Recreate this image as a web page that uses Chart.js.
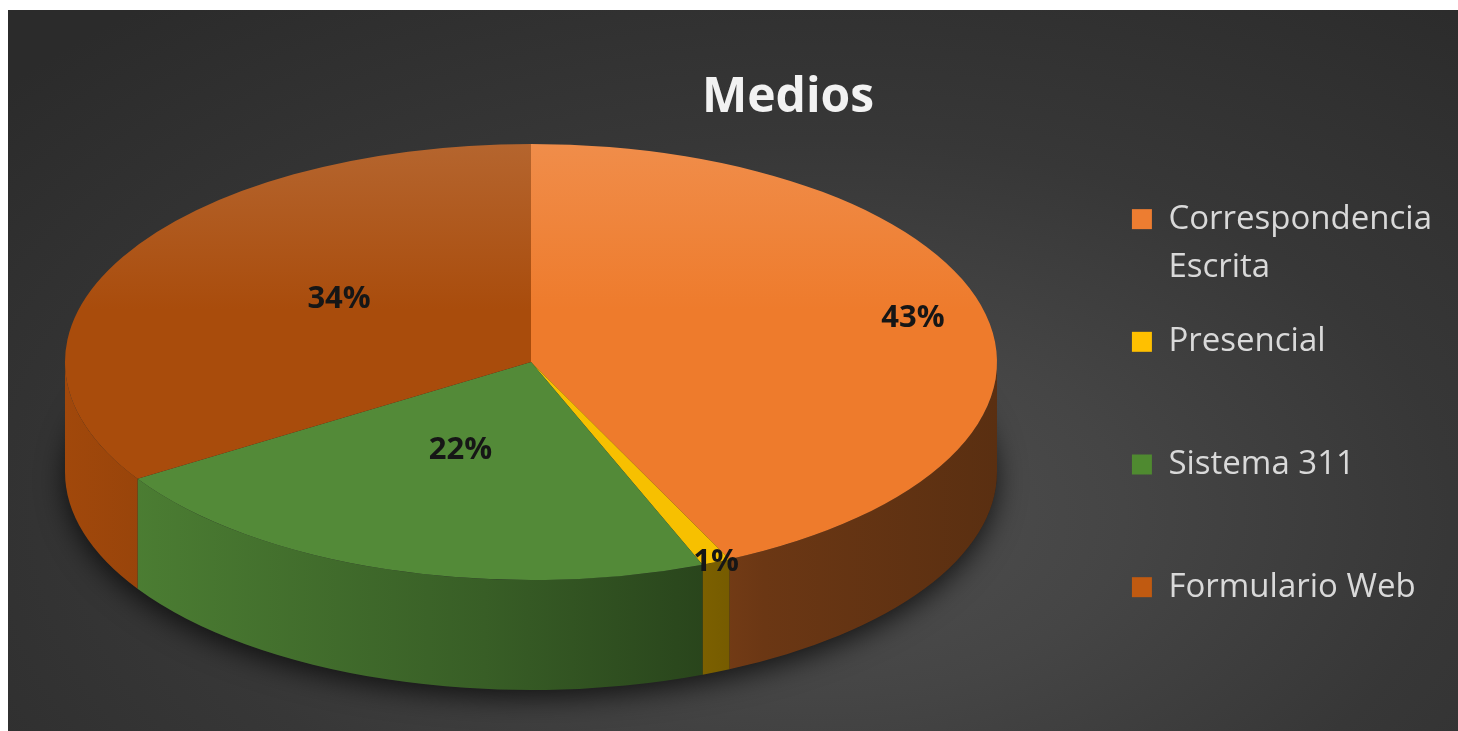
<!DOCTYPE html>
<html>
<head>
<meta charset="utf-8">
<title>Medios</title>
<script src="https://cdn.jsdelivr.net/npm/chart.js@4.4.1/dist/chart.umd.min.js"></script>
<style>
  html, body { margin: 0; padding: 0; background: #ffffff; }
  #marco {
    position: absolute; left: 8px; top: 10px; width: 1450px; height: 721px;
    background: radial-gradient(ellipse 75% 90% at 56% 70%, #4f4f4f 0%, #454545 28%, #373737 58%, #2b2b2b 100%);
  }
</style>
</head>
<body>
<div id="marco"><canvas id="medios"></canvas></div>
<script>
// datos
var categorias = ["Correspondencia Escrita", "Presencial", "Sistema 311", "Formulario Web"];
var valores = [43, 1, 22, 34];

var colores = ["#ee7b2c", "#f7c000", "#538a38", "#a94c0c"];
var coloresLeyenda = ["#ed7d31", "#ffc000", "#4f8a30", "#c05a11"];

// vista inclinada del pastel (px del canvas)
var vista = { cx: 523, cy: 352, rx: 466, ry: 218, fondo: 110, alzado: 26 };
// a que fraccion del radio va cada etiqueta
var radioEtiqueta = [0.84, 1.0, 0.49, 0.47];

function rgb(hex) {
  var n = parseInt(hex.slice(1), 16);
  return [(n >> 16) & 255, (n >> 8) & 255, n & 255];
}
function tono(hex, k) {
  var c = rgb(hex).map(function (v) { return Math.round(Math.min(255, v * k)); });
  return "rgb(" + c.join(",") + ")";
}
function aclarar(hex, t) {
  var c = rgb(hex).map(function (v) { return Math.round(v + (255 - v) * t); });
  return "rgb(" + c.join(",") + ")";
}

function caraSuperior(c) {
  var chart = c.chart, area = chart.chartArea, base = colores[c.dataIndex];
  if (!area) return base;
  var r = Math.min(area.right - area.left, area.bottom - area.top) / 2;
  var y = (area.top + area.bottom) / 2;
  var g = chart.ctx.createLinearGradient(0, y - r, 0, y + r);
  g.addColorStop(0, aclarar(base, 0.14));
  g.addColorStop(0.38, base);
  g.addColorStop(1, base);
  return g;
}

function partir(txt) {
  var lineas = [txt];
  if (txt.length > 16) {
    var p = txt.lastIndexOf(" ");
    lineas = [txt.slice(0, p), txt.slice(p + 1)];
  }
  while (lineas.length < 2) lineas.push("");
  return lineas;
}

var pastel3d = {
  id: "pastel3d",
  beforeDatasetsDraw: function (chart) {
    var ctx = chart.ctx;
    var arcos = chart.getDatasetMeta(0).data;
    var a = arcos[0], r = a.outerRadius;
    var sx = vista.rx / r, sy = vista.ry / r;
    var dU = vista.fondo / sy;

    ctx.save();
    ctx.translate(vista.cx, vista.cy);
    ctx.scale(sx, sy);
    ctx.translate(-a.x, -a.y);

    // sombra bajo el pastel
    ctx.save();
    ctx.shadowColor = "rgba(0,0,0,0.7)";
    ctx.shadowBlur = 28;
    ctx.shadowOffsetY = 8;
    ctx.beginPath();
    ctx.arc(a.x, a.y + dU, r, 0, Math.PI * 2);
    ctx.fillStyle = "#222";
    ctx.fill();
    ctx.restore();

    // paredes laterales (solo la mitad delantera)
    arcos.forEach(function (el, i) {
      var a0 = Math.max(el.startAngle, 0), a1 = Math.min(el.endAngle, Math.PI);
      if (a1 <= a0) return;
      var base = colores[i];
      var g = ctx.createLinearGradient(el.x - r, 0, el.x + r, 0);
      g.addColorStop(0, tono(base, 0.95));
      g.addColorStop(0.45, tono(base, 0.68));
      g.addColorStop(0.75, tono(base, 0.45));
      g.addColorStop(1, tono(base, 0.38));
      ctx.beginPath();
      ctx.arc(el.x, el.y, r, a0, a1);
      ctx.arc(el.x, el.y + dU, r, a1, a0, true);
      ctx.closePath();
      ctx.fillStyle = g;
      ctx.fill();
    });
  },
  afterDatasetsDraw: function (chart) {
    var ctx = chart.ctx;
    ctx.restore();

    var arcos = chart.getDatasetMeta(0).data;
    var total = valores.reduce(function (s, v) { return s + v; }, 0);
    ctx.save();
    ctx.font = "bold 31px 'Open Sans'";
    ctx.fillStyle = "#161616";
    ctx.textAlign = "center";
    ctx.textBaseline = "middle";
    arcos.forEach(function (el, i) {
      var m = (el.startAngle + el.endAngle) / 2;
      var f = radioEtiqueta[i];
      var x = vista.cx + Math.cos(m) * vista.rx * f;
      var y = vista.cy + Math.sin(m) * vista.ry * f - vista.alzado * (1 - f);
      ctx.fillText(Math.round(valores[i] / total * 100) + "%", x, y);
    });
    ctx.restore();
  }
};

new Chart(document.getElementById("medios"), {
  type: "pie",
  data: {
    labels: categorias,
    datasets: [{
      data: valores,
      backgroundColor: caraSuperior,
      borderWidth: 0,
      clip: false
    }]
  },
  options: {
    responsive: true,
    maintainAspectRatio: false,
    animation: false,
    events: [],
    layout: { padding: { left: 126, right: 16, top: 0, bottom: -130 } },
    plugins: {
      title: {
        display: true,
        text: "Medios",
        color: "#f2f2f2",
        font: { family: "Open Sans", size: 48, weight: "bold" },
        padding: { top: 60, bottom: 20 }
      },
      legend: {
        position: "right",
        labels: {
          font: { family: "Open Sans", size: 33, lineHeight: 1.48 },
          color: "#d9d9d9",
          boxWidth: 20,
          boxHeight: 20,
          padding: 25,
          generateLabels: function () {
            return categorias.map(function (cat, i) {
              return {
                text: partir(cat),
                fillStyle: coloresLeyenda[i],
                strokeStyle: coloresLeyenda[i],
                lineWidth: 0,
                fontColor: "#d9d9d9",
                hidden: false,
                index: i
              };
            });
          }
        }
      },
      tooltip: { enabled: false }
    }
  },
  plugins: [pastel3d]
});
</script>
</body>
</html>
